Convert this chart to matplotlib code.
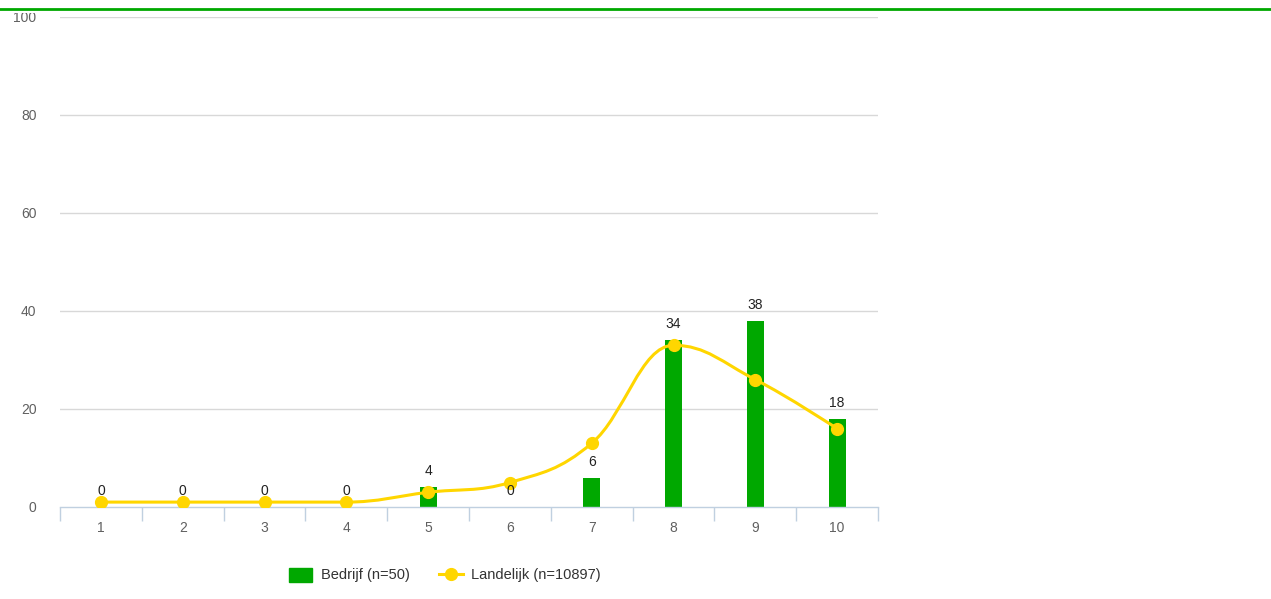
import numpy as np
import matplotlib
matplotlib.use("Agg")
import matplotlib.pyplot as plt
from matplotlib.path import Path
from matplotlib.patches import PathPatch, Patch, Rectangle
from matplotlib.lines import Line2D

# %% Data
categories = ["1", "2", "3", "4", "5", "6", "7", "8", "9", "10"]
bedrijf = [0, 0, 0, 0, 4, 0, 6, 34, 38, 18]
landelijk = [1, 1, 1, 1, 3, 5, 13, 33, 26, 16]
bedrijf_label = "Bedrijf (n=50)"
landelijk_label = "Landelijk (n=10897)"

green = "#00a800"
gold = "#ffd600"
grid_col = "#d8d8d8"
axis_col = "#c0d0e0"
tick_col = "#606060"


def spline_path(xs, ys, smoothing=1.5):
    # highcharts-style spline control points
    denom = smoothing + 1
    n = len(xs)
    left = [None] * n
    right = [None] * n
    for i in range(n):
        x, y = xs[i], ys[i]
        lc = (x, y)
        rc = (x, y)
        if 0 < i < n - 1:
            lx, ly = xs[i - 1], ys[i - 1]
            nx, ny = xs[i + 1], ys[i + 1]
            lcx = (smoothing * x + lx) / denom
            lcy = (smoothing * y + ly) / denom
            rcx = (smoothing * x + nx) / denom
            rcy = (smoothing * y + ny) / denom
            if rcx != lcx:
                corr = (rcy - lcy) * (rcx - x) / (rcx - lcx) + y - rcy
                lcy += corr
                rcy += corr
            if lcy > ly and lcy > y:
                lcy = max(ly, y)
                rcy = 2 * y - lcy
            elif lcy < ly and lcy < y:
                lcy = min(ly, y)
                rcy = 2 * y - lcy
            if rcy > ny and rcy > y:
                rcy = max(ny, y)
                lcy = 2 * y - rcy
            elif rcy < ny and rcy < y:
                rcy = min(ny, y)
                lcy = 2 * y - rcy
            lc = (lcx, lcy)
            rc = (rcx, rcy)
        left[i] = lc
        right[i] = rc
    verts = [(xs[0], ys[0])]
    codes = [Path.MOVETO]
    for i in range(1, n):
        verts += [right[i - 1], left[i], (xs[i], ys[i])]
        codes += [Path.CURVE4] * 3
    return Path(verts, codes)


# %% Plot
W, H = 1271, 599
plt.rcParams["font.family"] = ["Liberation Sans", "DejaVu Sans"]
fig = plt.figure(figsize=(W / 100, H / 100), dpi=100)

ax = fig.add_axes([60 / W, 1 - 507 / H, (878 - 60) / W, (507 - 17) / H])
x = np.arange(1, len(categories) + 1)

ax.set_xlim(0.5, len(categories) + 0.5)
ax.set_ylim(0, 100)
ax.set_yticks(np.arange(0, 101, 20))
for yv in np.arange(20, 101, 20):
    ax.axhline(yv, color=grid_col, lw=1, zorder=0)

ax.bar(x, bedrijf, width=0.21, color=green, zorder=2)

path = spline_path(list(x.astype(float)), [float(v) for v in landelijk])
ax.add_patch(PathPatch(path, facecolor="none", edgecolor=gold, lw=2.2, zorder=3,
                       capstyle="round", joinstyle="round"))
ax.plot(x, landelijk, linestyle="none", marker="o", markersize=8.5,
        color=gold, zorder=4)

for xi, v in zip(x, bedrijf):
    ax.annotate(str(v), (xi, v), xytext=(0, 16), textcoords="offset pixels",
                ha="center", va="center", fontsize=10, color="#222222", zorder=5)

for side in ["top", "right", "left"]:
    ax.spines[side].set_visible(False)
ax.spines["bottom"].set_color(axis_col)
ax.spines["bottom"].set_linewidth(1)

ax.set_xticks(x)
ax.set_xticklabels(categories)
ax.tick_params(axis="x", length=0, colors=tick_col, labelsize=10, pad=10)
ax.set_xticks(np.arange(0.5, len(categories) + 1, 1), minor=True)
ax.tick_params(axis="x", which="minor", length=10, color=axis_col, width=1)
ax.tick_params(axis="y", length=0, colors=tick_col, labelsize=10, pad=17)

# cut-off header strip and top border line
fig.add_artist(Rectangle((0, 1 - 13 / H), 1, 13 / H, transform=fig.transFigure,
                         facecolor="white", edgecolor="none", zorder=10))
fig.add_artist(Line2D([0, 1], [1 - 9 / H, 1 - 9 / H], color=green, lw=2,
                      transform=fig.transFigure, zorder=11))

handles = [
    Patch(facecolor=green, edgecolor=green),
    Line2D([0], [0], color=gold, lw=2.2, marker="o", markersize=8.5),
]
fig.legend(handles, [bedrijf_label, landelijk_label], ncol=2, frameon=False,
           loc="center", bbox_to_anchor=(445 / W, 1 - 575 / H), fontsize=10.5,
           labelcolor="#333333", handlelength=1.6, handleheight=1.1,
           columnspacing=2.0, handletextpad=0.6)

fig.savefig("out.png", dpi=100)
